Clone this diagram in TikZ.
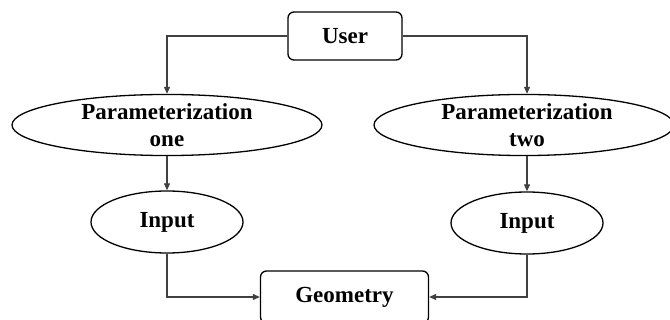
\documentclass[tikz,border=0pt]{standalone}
\usepackage{fontspec}
\setmainfont{Liberation Serif}
\usetikzlibrary{shapes.geometric,arrows.meta}
\begin{document}
\begin{tikzpicture}[x=1pt,y=-1pt,
  lbl/.style={font=\fontsize{23}{27}\selectfont\bfseries, align=center, inner sep=0pt},
  oval/.style={lbl, ellipse, draw=black, line width=1.3pt},
  rbox/.style={lbl, rectangle, rounded corners=6pt, draw=black, line width=1.3pt},
  conn/.style={draw=black!75, line width=1.1pt, -{Triangle[length=7pt,width=6pt]}}]
\useasboundingbox (0,0) rectangle (670,320);
\node[rbox, minimum width=114pt, minimum height=48pt] (user) at (345,36) {User};
\node[oval, minimum width=310pt, minimum height=60pt] (p1) at (167,125) {\raisebox{-2pt}{Parameterization}\\\raisebox{-2pt}{one}};
\node[oval, minimum width=300pt, minimum height=60pt] (p2) at (524,125) {\hspace*{6pt}\raisebox{-2pt}{Parameterization}\\\hspace*{6pt}\raisebox{-2pt}{two}};
\node[oval, minimum width=152pt, minimum height=62pt] (in1) at (167,222) {Input};
\node[oval, minimum width=152pt, minimum height=62pt] (in2) at (527,223) {Input};
\node[rbox, minimum width=168pt, minimum height=52pt] (geo) at (344.5,297) {Geometry};
\draw[conn] (user.west) -| (p1.north);
\draw[conn] (user.east) -| (in2.north |- p2.north);
\draw[conn] (p1.south) -- (in1.north);
\draw[conn] (in2.north |- p2.south) -- (in2.north);
\draw[conn] (in1.south) |- (geo.west);
\draw[conn] (in2.south) |- (geo.east);
\end{tikzpicture}
\end{document}
